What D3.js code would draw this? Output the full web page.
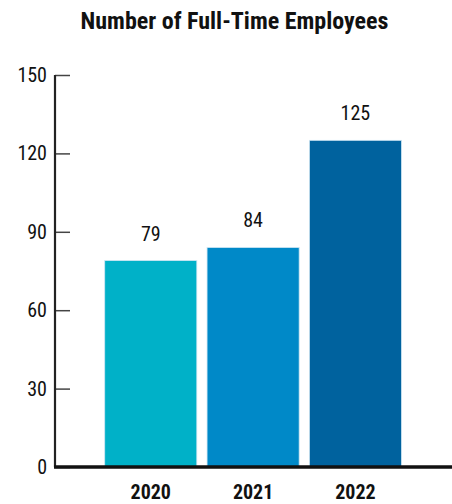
<!DOCTYPE html>
<html><head><meta charset="utf-8">
<script src="https://cdn.jsdelivr.net/npm/d3@7"></script>
<style>
body{margin:0;background:#fff;}
text{font-family:"Roboto Condensed","Roboto",sans-serif;font-stretch:75%;}
</style></head>
<body><svg id="c" width="452" height="504"></svg>
<script>
const categories = ["2020","2021","2022"];
const values = [79,84,125];
const colors = ["#00b1c8","#0089c8","#00629e"];
const yTicks = [0,30,60,90,120,150];
const title = "Number of Full-Time Employees";

const svg = d3.select("#c");
const y = d3.scaleLinear().domain([0,150]).range([467,75]);
const x = d3.scaleBand().domain(categories).range([99.6,406.6]).paddingInner(0.1).paddingOuter(0.05);

svg.append("text").attr("x",234.5).attr("y",28.5).attr("text-anchor","middle")
  .attr("font-size",24).attr("font-weight","bold").attr("fill","#111").text(title);

const yAxis = svg.append("g").attr("transform","translate(55,0)")
  .call(d3.axisRight(y).tickValues(yTicks).tickSize(15).tickFormat(d3.format("d")));
yAxis.select(".domain").remove();
yAxis.selectAll(".tick line").attr("stroke","#444").attr("stroke-width",1.5);
yAxis.selectAll(".tick text").attr("x",-8).attr("text-anchor","end").attr("font-size",20).attr("fill","#111").attr("font-family",null);

svg.append("line").attr("x1",55).attr("x2",55).attr("y1",y(150)).attr("y2",y(0)).attr("stroke","#222").attr("stroke-width",2.2);

svg.selectAll("rect.bar").data(values).enter().append("rect").attr("class","bar")
  .attr("x",(d,i)=>x(categories[i])).attr("width",x.bandwidth())
  .attr("y",d=>y(d)).attr("height",d=>y(0)-y(d))
  .attr("fill",(d,i)=>colors[i]).attr("stroke","#cfe6f3").attr("stroke-width",0.8);

svg.selectAll("text.val").data(values).enter().append("text").attr("class","val")
  .attr("x",(d,i)=>x(categories[i])+x.bandwidth()/2).attr("y",d=>y(d)-20)
  .attr("text-anchor","middle").attr("font-size",20).attr("fill","#111").text(d=>d);

svg.append("line").attr("x1",54).attr("x2",452).attr("y1",y(0)).attr("y2",y(0)).attr("stroke","#111").attr("stroke-width",3.5);

svg.selectAll("text.cat").data(categories).enter().append("text").attr("class","cat")
  .attr("x",d=>x(d)+x.bandwidth()/2).attr("y",499).attr("text-anchor","middle")
  .attr("font-size",20).attr("font-weight","bold").attr("fill","#111").text(d=>d);
</script></body></html>
